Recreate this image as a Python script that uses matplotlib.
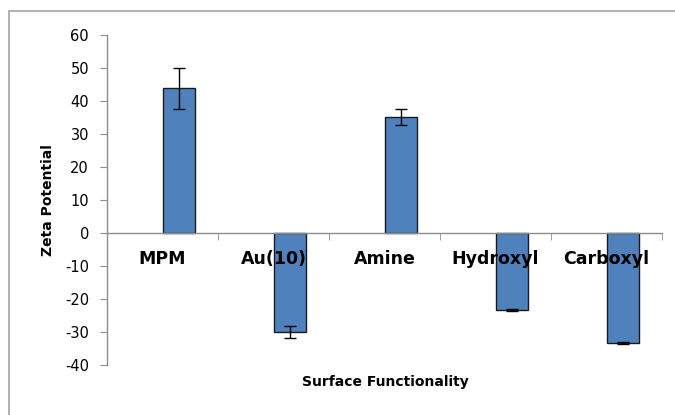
import matplotlib
matplotlib.use("Agg")
import matplotlib.pyplot as plt
from matplotlib.patches import Rectangle
import numpy as np

# data
categories = ["MPM", "Au(10)", "Amine", "Hydroxyl", "Carboxyl"]
zeta = [43.8, -30.0, 35.2, -23.3, -33.3]
zeta_err = [6.3, 1.9, 2.5, 0.4, 0.3]
y_ticks = [-40, -30, -20, -10, 0, 10, 20, 30, 40, 50, 60]

bar_color = "#4F81BD"
axis_gray = "#8C8C8C"

fig = plt.figure(figsize=(6.75, 4.15), dpi=100)
fig.patch.set_facecolor("white")

# outer chart border (runs off the right/bottom edge like the screenshot)
fig.patches.append(Rectangle((9 / 675, -0.1), 1.2, 1 - 11 / 415 + 0.1,
                             transform=fig.transFigure, fill=False,
                             edgecolor="#A6A6A6", linewidth=1.2))

ax = fig.add_axes([107 / 675, 1 - 365 / 415, (662 - 107) / 675, (365 - 35) / 415])

x = np.arange(len(categories))
ax.bar(x, zeta, width=0.29, align="edge", color=bar_color,
       edgecolor="#1a1a1a", linewidth=1.0, zorder=1)
ax.errorbar(x + 0.145, zeta, yerr=zeta_err, fmt="none", ecolor="black",
            elinewidth=1.0, capsize=4.3, capthick=1.0, zorder=3)

ax.set_xlim(-0.5, len(categories) - 0.5)
ax.set_ylim(-40, 60)
ax.set_yticks(y_ticks)
ax.set_yticklabels([str(v) for v in y_ticks], fontsize=10.5)

for s in ["top", "right"]:
    ax.spines[s].set_visible(False)
ax.spines["left"].set_color(axis_gray)
ax.spines["bottom"].set_color(axis_gray)
ax.spines["bottom"].set_position(("data", 0))
ax.spines["left"].set_linewidth(1.0)
ax.spines["bottom"].set_linewidth(1.0)

ax.tick_params(axis="y", direction="out", length=5, color=axis_gray, pad=8)
ax.set_xticks(x)
ax.set_xticklabels(categories, fontsize=12.5, fontweight="bold")
ax.tick_params(axis="x", which="major", length=0, pad=12)
ax.set_xticks(x + 0.5, minor=True)
ax.tick_params(axis="x", which="minor", direction="out", length=5, color=axis_gray)

fig.text(48 / 675, 1 - 200 / 415, "Zeta Potential", rotation=90, fontsize=10,
         fontweight="bold", ha="center", va="center")
fig.text(385 / 675, 1 - 382 / 415, "Surface Functionality", fontsize=10,
         fontweight="bold", ha="center", va="center")

fig.savefig("out.png", dpi=100, facecolor="white")
